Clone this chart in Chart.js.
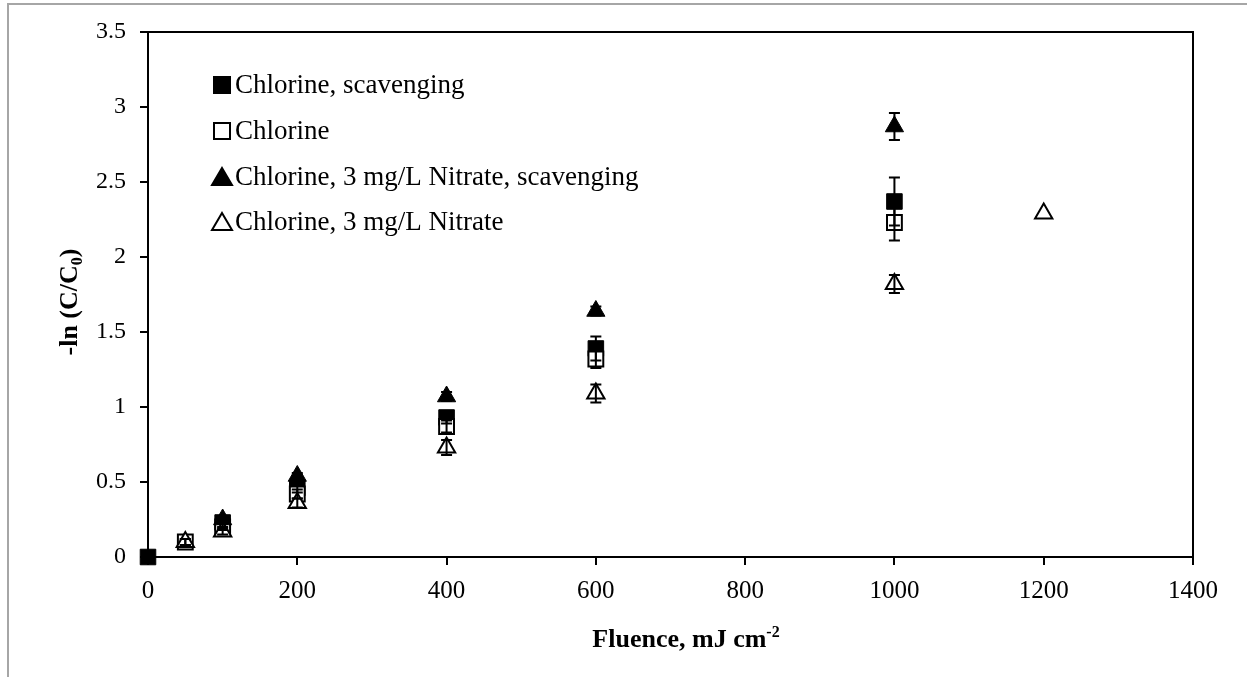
<!DOCTYPE html>
<html>
<head>
<meta charset="utf-8">
<script src="https://cdn.jsdelivr.net/npm/chart.js@4.4.0/dist/chart.umd.min.js"></script>
<style>
  body { margin: 0; background: #fff; }
  #wrap { position: relative; width: 1247px; height: 677px; overflow: hidden; }
  #frame { position: absolute; left: 7px; top: 3px; width: 1400px; height: 900px; border: 2px solid #a6a6a6; pointer-events: none; }
</style>
</head>
<body>
<div id="wrap">
  <canvas id="chart" width="1247" height="677"></canvas>
  <div id="frame"></div>
</div>
<script>
// data
const seriesNames = ["Chlorine, scavenging", "Chlorine", "Chlorine, 3 mg/L Nitrate, scavenging", "Chlorine, 3 mg/L Nitrate"];

const clScavX = [0, 100, 200, 400, 600, 1000];
const clScavY = [0, 0.23, 0.46, 0.93, 1.39, 2.37];
const clScavErr = [0, 0.03, 0.03, 0.04, 0.08, 0.16];

const clX = [50, 100, 200, 400, 600, 1000];
const clY = [0.10, 0.20, 0.42, 0.87, 1.32, 2.23];
const clErr = [0.02, 0.02, 0.03, 0.04, 0.06, 0.12];

const nitScavX = [100, 200, 400, 600, 1000];
const nitScavY = [0.25, 0.54, 1.07, 1.64, 2.87];
const nitScavErr = [0.02, 0.02, 0.03, 0.03, 0.09];

const nitX = [50, 100, 200, 400, 600, 1000, 1200];
const nitY = [0.10, 0.17, 0.36, 0.73, 1.09, 1.82, 2.29];
const nitErr = [0.02, 0.02, 0.03, 0.05, 0.06, 0.06, 0];

const xTicks = [0, 200, 400, 600, 800, 1000, 1200, 1400];
const yTicks = [0, 0.5, 1, 1.5, 2, 2.5, 3, 3.5];

const FONT = "'Liberation Serif', 'Times New Roman', serif";

function pts(xs, ys) {
  return xs.map((x, i) => ({ x: x, y: ys[i] }));
}

const datasets = [
  { label: seriesNames[0], data: pts(clScavX, clScavY), errors: clScavErr,
    pointStyle: "rect", pointRadius: 11, backgroundColor: "#000", borderColor: "#000", borderWidth: 1, order: 4, clip: false },
  { label: seriesNames[1], data: pts(clX, clY), errors: clErr,
    pointStyle: "rect", pointRadius: 10.5, backgroundColor: "#fff", borderColor: "#000", borderWidth: 2, order: 3, clip: false },
  { label: seriesNames[2], data: pts(nitScavX, nitScavY), errors: nitScavErr,
    pointStyle: "triangle", pointRadius: 10.5, backgroundColor: "#000", borderColor: "#000", borderWidth: 1, order: 2, clip: false },
  { label: seriesNames[3], data: pts(nitX, nitY), errors: nitErr,
    pointStyle: "triangle", pointRadius: 10, backgroundColor: "#fff", borderColor: "#000", borderWidth: 2, order: 1, clip: false }
];

// error bars, drawn through the chart's scales
const errorBars = {
  id: "errorBars",
  afterDatasetsDraw(chart) {
    const ctx = chart.ctx, xs = chart.scales.x, ys = chart.scales.y;
    ctx.save();
    ctx.strokeStyle = "#000";
    ctx.lineWidth = 2;
    chart.data.datasets.forEach(ds => {
      ds.data.forEach((p, i) => {
        const e = ds.errors[i];
        if (!e) return;
        const px = xs.getPixelForValue(p.x);
        const top = ys.getPixelForValue(p.y + e);
        const bot = ys.getPixelForValue(p.y - e);
        ctx.beginPath();
        ctx.moveTo(px, top); ctx.lineTo(px, bot);
        ctx.moveTo(px - 5.5, top); ctx.lineTo(px + 5.5, top);
        ctx.moveTo(px - 5.5, bot); ctx.lineTo(px + 5.5, bot);
        ctx.stroke();
      });
    });
    ctx.restore();
  }
};

// plot box, legend and axis titles with sub/superscripts
function drawRich(ctx, parts, cx, cy) {
  let total = 0;
  parts.forEach(p => { ctx.font = p.font; total += ctx.measureText(p.t).width; });
  let x = cx - total / 2;
  parts.forEach(p => {
    ctx.font = p.font;
    ctx.fillText(p.t, x, cy + (p.dy || 0));
    x += ctx.measureText(p.t).width;
  });
}

function legendMark(ctx, style, filled, cx, cy) {
  ctx.beginPath();
  if (style === "rect") {
    ctx.rect(cx - 8, cy - 8, 16, 16);
  } else {
    ctx.moveTo(cx, cy - 9);
    ctx.lineTo(cx + 10, cy + 8);
    ctx.lineTo(cx - 10, cy + 8);
    ctx.closePath();
  }
  ctx.fillStyle = filled ? "#000" : "#fff";
  ctx.fill();
  ctx.lineWidth = 2;
  ctx.strokeStyle = "#000";
  ctx.stroke();
}

const decorations = {
  id: "decorations",
  beforeDatasetsDraw(chart) {
    const ctx = chart.ctx, a = chart.chartArea;
    ctx.save();
    ctx.strokeStyle = "#000";
    ctx.lineWidth = 2;
    ctx.strokeRect(a.left, a.top, a.right - a.left, a.bottom - a.top);
    ctx.restore();
  },
  afterDraw(chart) {
    const ctx = chart.ctx;
    ctx.save();

    // legend
    ctx.textBaseline = "middle";
    ctx.textAlign = "left";
    const rowY = [85, 131, 177, 222];
    chart.data.datasets.forEach((ds, i) => {
      legendMark(ctx, ds.pointStyle, ds.backgroundColor === "#000", 222, rowY[i]);
      ctx.fillStyle = "#000";
      ctx.font = "27px " + FONT;
      ctx.fillText(ds.label, 235, rowY[i] + 1);
    });

    // x title
    ctx.fillStyle = "#000";
    ctx.textAlign = "left";
    ctx.textBaseline = "alphabetic";
    drawRich(ctx, [
      { t: "Fluence, mJ cm", font: "bold 26px " + FONT },
      { t: "-2", font: "bold 16px " + FONT, dy: -10 }
    ], 686, 647);

    // y title
    ctx.save();
    ctx.translate(77, 302);
    ctx.rotate(-Math.PI / 2);
    drawRich(ctx, [
      { t: "-ln (C/C", font: "bold 26px " + FONT },
      { t: "0", font: "bold 16px " + FONT, dy: 5 },
      { t: ")", font: "bold 26px " + FONT }
    ], 0, 0);
    ctx.restore();
    ctx.restore();
  }
};

new Chart(document.getElementById("chart"), {
  type: "scatter",
  data: { datasets: datasets },
  options: {
    responsive: false,
    animation: false,
    devicePixelRatio: 1,
    layout: { padding: { left: 0, right: 54, top: 32, bottom: 0 } },
    plugins: { legend: { display: false }, tooltip: { enabled: false } },
    scales: {
      x: {
        type: "linear",
        min: 0, max: 1400,
        afterBuildTicks: s => { s.ticks = xTicks.map(v => ({ value: v })); },
        afterFit: s => { s.height = 677 - 557; },
        ticks: { color: "#000", font: { family: FONT, size: 25 }, padding: 11, maxRotation: 0,
                 callback: v => String(v) },
        grid: { drawOnChartArea: false, tickLength: 8, color: "#000", lineWidth: 2 },
        border: { color: "#000", width: 2 }
      },
      y: {
        type: "linear",
        min: 0, max: 3.5,
        afterBuildTicks: s => { s.ticks = yTicks.map(v => ({ value: v })); },
        afterFit: s => { s.width = 148; },
        ticks: { color: "#000", font: { family: FONT, size: 24 }, padding: 14,
                 callback: v => String(v) },
        grid: { drawOnChartArea: false, tickLength: 8, color: "#000", lineWidth: 2 },
        border: { color: "#000", width: 2 }
      }
    }
  },
  plugins: [errorBars, decorations]
});
</script>
</body>
</html>
